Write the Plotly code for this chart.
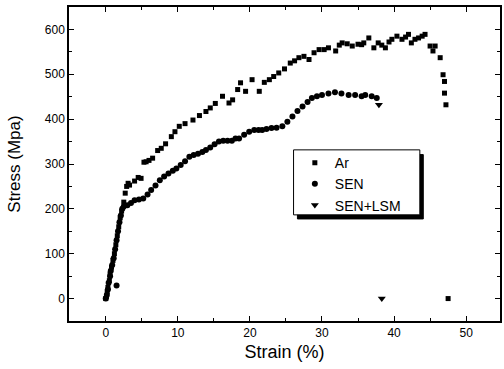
import plotly.graph_objects as go

# Ar (squares)
ar_strain = [0, 0.1, 0.2, 0.3, 0.5, 0.6, 0.8, 1.0, 1.2, 1.4, 1.6, 1.8, 2.0, 2.2, 2.5, 2.7, 2.9, 3.1, 3.3,
             4.0, 4.5, 4.9, 5.3, 5.6, 6.0, 6.5, 7.2, 7.7, 8.3, 9.1, 9.6, 10.2, 11.0, 12.1, 13.0, 13.9, 14.5,
             15.2, 16.2, 17.1, 17.6, 18.3, 18.7, 19.4, 20.3, 21.3, 22.0, 22.7, 23.3, 24.0, 24.8, 25.6, 26.2,
             26.8, 27.5, 28.2, 28.9, 29.6, 30.3, 30.9, 31.9, 32.4, 32.8, 33.5, 34.2, 35.0, 35.5, 35.8, 36.5,
             37.2, 37.8, 38.3, 38.8, 39.3, 39.7, 40.4, 41.1, 41.6, 42.0, 42.4, 42.9, 43.4, 43.9, 44.3, 45.0,
             45.4, 45.7, 46.4, 46.8, 47.0, 47.0, 47.2, 47.5]
ar_stress = [0, 5, 15, 25, 40, 55, 70, 85, 100, 120, 140, 160, 180, 195, 215, 235, 250, 257, 253,
             262, 270, 268, 304, 305, 308, 313, 330, 335, 345, 361, 372, 384, 390, 398, 408, 417, 425,
             435, 451, 436, 443, 466, 481, 462, 488, 462, 482, 488, 495, 503, 512, 525, 530,
             537, 540, 533, 548, 555, 555, 559, 552, 565, 570, 568, 563, 567, 566, 570, 581,
             559, 570, 565, 559, 572, 578, 585, 578, 583, 589, 570, 578, 581, 585, 589, 563,
             552, 563, 537, 499, 484, 458, 432, 0]

# SEN (circles)
sen_strain = [0, 0.15, 0.3, 0.4, 0.6, 0.7, 0.9, 1.1, 1.3, 1.5, 1.5, 1.7, 1.9, 2.1, 2.3, 2.5, 3.0, 3.5,
              4.0, 4.6, 5.2, 5.8, 6.3, 6.9, 7.5, 8.1, 8.7, 9.3, 9.8, 10.4, 11.0, 11.6, 12.2, 12.8, 13.4,
              13.9, 14.5, 15.1, 15.7, 16.3, 16.9, 17.5, 18.0, 18.5, 19.2, 19.9, 20.6, 21.2, 21.7, 22.3,
              23.0, 23.7, 24.5, 25.2, 25.9, 26.6, 27.3, 28.0, 28.6, 29.3, 30.0, 30.9, 31.8, 32.7, 33.7,
              34.6, 35.5, 36.0, 36.9, 37.6]
sen_stress = [0, 8, 20, 35, 50, 62, 75, 90, 110, 130, 29, 150, 170, 185, 200, 205, 208, 213,
              219, 221, 223, 232, 242, 252, 264, 272, 279, 285, 290, 298, 306, 316, 320, 323, 327,
              331, 337, 344, 350, 352, 352, 352, 357, 357, 365, 372, 376, 376, 376, 378,
              380, 381, 384, 394, 406, 418, 428, 438, 447, 451, 454, 457, 460, 457, 454,
              454, 451, 454, 451, 447]

# SEN+LSM (down triangles)
lsm_strain = [37.9, 38.3]
lsm_stress = [432, 0]

x_ticks = [0, 10, 20, 30, 40, 50]
y_ticks = [0, 100, 200, 300, 400, 500, 600]

FONT = "Arial, Liberation Sans"

fig = go.Figure()
fig.add_trace(go.Scatter(x=ar_strain, y=ar_stress, mode="markers", name="Ar",
                         marker=dict(symbol="square", size=5, color="black")))
fig.add_trace(go.Scatter(x=sen_strain, y=sen_stress, mode="markers", name="SEN",
                         marker=dict(symbol="circle", size=6, color="black")))
fig.add_trace(go.Scatter(x=lsm_strain, y=lsm_stress, mode="markers", name="SEN+LSM",
                         marker=dict(symbol="triangle-down", size=7, color="black")))

axis_common = dict(showline=True, linecolor="black", linewidth=1.5, mirror="ticks",
                   ticks="inside", ticklen=5, tickcolor="black", tickwidth=1,
                   showgrid=False, zeroline=False,
                   tickfont=dict(family=FONT, size=12, color="black"))

fig.update_xaxes(range=[-5.1, 54.7], tickvals=x_ticks,
                 minor=dict(ticks="inside", ticklen=3, dtick=5, tick0=5, tickcolor="black"),
                 title=dict(text="Strain (%)", font=dict(family=FONT, size=18, color="black"), standoff=6),
                 **axis_common)
fig.update_yaxes(range=[-50, 650], tickvals=y_ticks,
                 minor=dict(ticks="inside", ticklen=3, dtick=50, tick0=50, tickcolor="black"),
                 title=dict(text="Stress (Mpa)", font=dict(family=FONT, size=17, color="black"), standoff=20),
                 **axis_common)

# legend shadow and frame
fig.add_shape(type="rect", xref="paper", yref="paper",
              x0=0.530, x1=0.822, y0=0.325, y1=0.530,
              fillcolor="black", line=dict(width=1, color="black"), layer="below")
fig.add_shape(type="rect", xref="paper", yref="paper",
              x0=0.521, x1=0.814, y0=0.338, y1=0.545,
              fillcolor="white", line=dict(width=1, color="black"), layer="below")

fig.update_layout(
    width=504, height=369,
    margin=dict(l=69, r=2, t=7, b=48),
    plot_bgcolor="white", paper_bgcolor="white",
    showlegend=True,
    legend=dict(x=0.524, y=0.554, xanchor="left", yanchor="top",
                bgcolor="rgba(0,0,0,0)", borderwidth=0,
                font=dict(family=FONT, size=14, color="black"),
                tracegroupgap=0),
)

fig.write_html("out.html")
